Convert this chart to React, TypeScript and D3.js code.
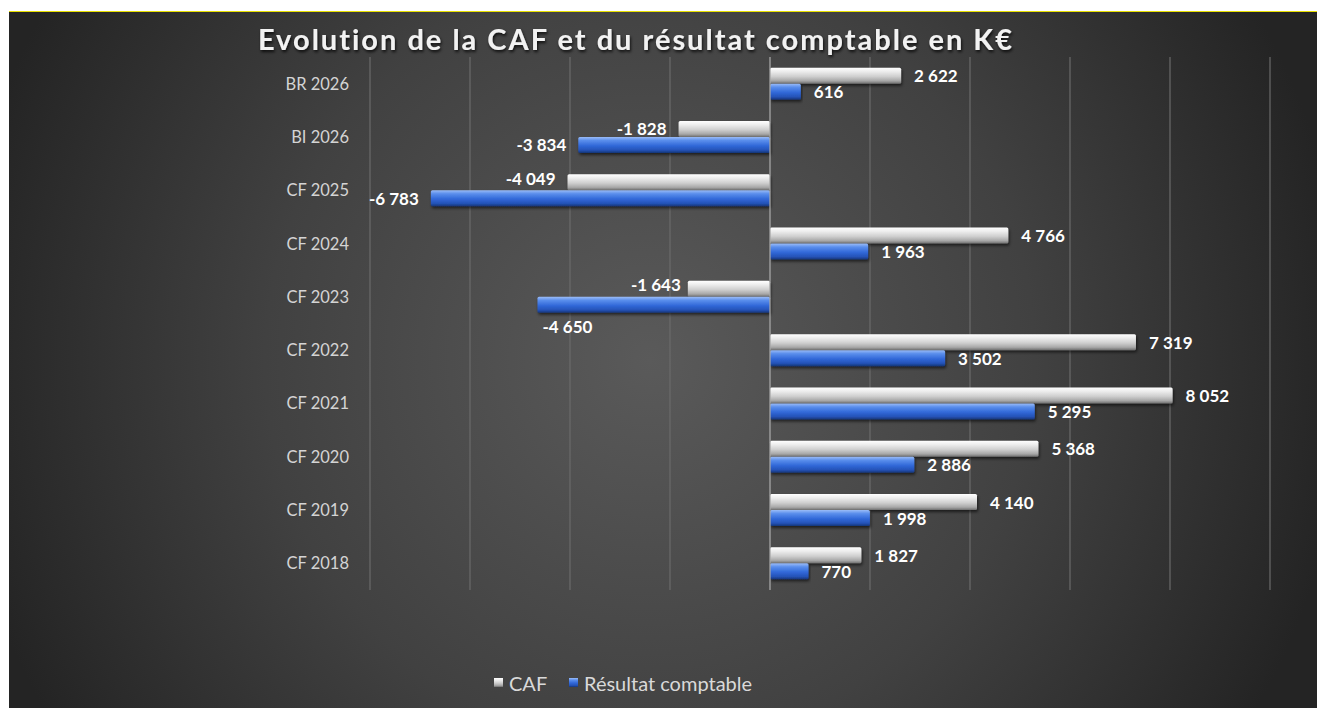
import React, { useEffect, useRef } from 'react';
import * as d3 from 'd3';

const categories = ['BR 2026', 'BI 2026', 'CF 2025', 'CF 2024', 'CF 2023', 'CF 2022', 'CF 2021', 'CF 2020', 'CF 2019', 'CF 2018'];
const cafValues = [2622, -1828, -4049, 4766, -1643, 7319, 8052, 5368, 4140, 1827];
const resultatValues = [616, -3834, -6783, 1963, -4650, 3502, 5295, 2886, 1998, 770];
const seriesNames = ['CAF', 'Résultat comptable'];
const xTicks = [-8000, -6000, -4000, -2000, 0, 2000, 4000, 6000, 8000, 10000];

const W = 1317;
const H = 708;
const FONT = 'Lato, "Open Sans", sans-serif';

const App = () => {
  const ref = useRef<SVGSVGElement | null>(null);

  useEffect(() => {
    const svg = d3.select(ref.current);
    svg.selectAll('*').remove();

    const defs = svg.append('defs');

    const bg = defs.append('radialGradient').attr('id', 'bg')
      .attr('gradientUnits', 'userSpaceOnUse')
      .attr('cx', 650).attr('cy', 360).attr('r', 700);
    bg.append('stop').attr('offset', '0%').attr('stop-color', '#5a5a5a');
    bg.append('stop').attr('offset', '55%').attr('stop-color', '#414141');
    bg.append('stop').attr('offset', '100%').attr('stop-color', '#242424');

    const grayGrad = defs.append('linearGradient').attr('id', 'gray').attr('x1', 0).attr('y1', 0).attr('x2', 0).attr('y2', 1);
    [['0%', '#ffffff'], ['25%', '#ececec'], ['55%', '#cfcfcf'], ['82%', '#a8a8a8'], ['100%', '#6e6e6e']]
      .forEach(([o, c]) => grayGrad.append('stop').attr('offset', o).attr('stop-color', c));

    const blueGrad = defs.append('linearGradient').attr('id', 'blue').attr('x1', 0).attr('y1', 0).attr('x2', 0).attr('y2', 1);
    [['0%', '#9bbcf7'], ['22%', '#5a8eec'], ['55%', '#3168d8'], ['82%', '#2553b8'], ['100%', '#163577']]
      .forEach(([o, c]) => blueGrad.append('stop').attr('offset', o).attr('stop-color', c));

    const shadow = defs.append('filter').attr('id', 'shadow').attr('x', '-5%').attr('y', '-30%').attr('width', '110%').attr('height', '180%');
    shadow.append('feDropShadow').attr('dx', 1).attr('dy', 2).attr('stdDeviation', 1.5)
      .attr('flood-color', '#000').attr('flood-opacity', 0.6);

    const tshadow = defs.append('filter').attr('id', 'tshadow');
    tshadow.append('feDropShadow').attr('dx', 1).attr('dy', 2).attr('stdDeviation', 1.5)
      .attr('flood-color', '#000').attr('flood-opacity', 0.8);

    // page + chart area
    svg.append('rect').attr('width', W).attr('height', H).attr('fill', '#fff');
    svg.append('rect').attr('x', 9).attr('y', 11).attr('width', W - 9).attr('height', 1.5).attr('fill', '#e8e000');
    svg.append('rect').attr('x', 9).attr('y', 12).attr('width', W - 9).attr('height', H - 12).attr('fill', 'url(#bg)');

    const top = 57;
    const bottom = 590;

    const x = d3.scaleLinear().domain([-8000, 10000]).range([370, 1270]);
    const y = d3.scaleBand().domain(categories).range([top, bottom]).paddingInner(0.4).paddingOuter(0.2);
    const y1 = d3.scaleBand().domain(seriesNames).range([0, y.bandwidth()]);

    const locale = d3.formatLocale({ decimal: ',', thousands: ' ', grouping: [3], currency: ['', ' €'], minus: '-' });
    const fmt = locale.format(',d');

    // gridlines
    svg.append('g').selectAll('line').data(xTicks.filter(t => t !== 0)).join('line')
      .attr('x1', d => x(d)).attr('x2', d => x(d))
      .attr('y1', top).attr('y2', bottom)
      .attr('stroke', '#6b6b6b').attr('stroke-width', 1.2);

    // category labels
    svg.append('g').selectAll('text').data(categories).join('text')
      .attr('x', 349).attr('y', d => (y(d) as number) + y.bandwidth() / 2)
      .attr('text-anchor', 'end').attr('dominant-baseline', 'central')
      .attr('font-family', FONT).attr('font-size', 16.5).attr('fill', '#d4d4d4')
      .text(d => d);

    const series = [
      { name: seriesNames[0], values: cafValues, fill: 'url(#gray)' },
      { name: seriesNames[1], values: resultatValues, fill: 'url(#blue)' },
    ];

    // label nudges to mimic the reference placement (category|series) -> [dx, dy]
    const nudge: Record<string, [number, number]> = {
      'CF 2025|CAF': [0, -4],
      'CF 2023|CAF': [5, -4],
    };

    series.forEach(s => {
      svg.append('g').selectAll('rect').data(s.values).join('rect')
        .attr('x', d => x(Math.min(0, d)))
        .attr('width', d => Math.abs(x(d) - x(0)))
        .attr('y', (d, i) => (y(categories[i]) as number) + (y1(s.name) as number))
        .attr('height', y1.bandwidth())
        .attr('rx', 1.5)
        .attr('fill', s.fill)
        .attr('filter', 'url(#shadow)');
    });

    // zero axis
    svg.append('line').attr('x1', x(0)).attr('x2', x(0)).attr('y1', top).attr('y2', bottom)
      .attr('stroke', '#a6a6a6').attr('stroke-width', 1.3);

    series.forEach(s => {
      svg.append('g').selectAll('text').data(s.values).join('text')
        .each(function (d, i) {
          const cat = categories[i];
          const cy = (y(cat) as number) + (y1(s.name) as number) + y1.bandwidth() / 2;
          const [dx, dy] = nudge[`${cat}|${s.name}`] || [0, 0];
          const t = d3.select(this);
          if (cat === 'CF 2023' && s.name === seriesNames[1]) {
            // label placed under the bar
            t.attr('x', x(d) + 5).attr('y', cy + 22).attr('text-anchor', 'start');
          } else if (d >= 0) {
            t.attr('x', x(d) + 13 + dx).attr('y', cy + dy).attr('text-anchor', 'start');
          } else {
            t.attr('x', x(d) - 12 + dx).attr('y', cy + dy).attr('text-anchor', 'end');
          }
        })
        .attr('dominant-baseline', 'central')
        .attr('font-family', FONT).attr('font-weight', 700).attr('font-size', 17).attr('fill', '#ffffff')
        .text(d => fmt(d));
    });

    // title
    svg.append('text')
      .attr('x', 636).attr('y', 38)
      .attr('text-anchor', 'middle').attr('dominant-baseline', 'central')
      .attr('font-family', FONT).attr('font-weight', 700).attr('font-size', 29)
      .attr('letter-spacing', 2).attr('fill', '#f2f2f2').attr('filter', 'url(#tshadow)')
      .text('Evolution de la CAF et du résultat comptable en K€');

    // legend
    const legend = svg.append('g').attr('transform', 'translate(494,683)');
    const items = [
      { name: seriesNames[0], fill: 'url(#gray)', x: 0 },
      { name: seriesNames[1], fill: 'url(#blue)', x: 75 },
    ];
    items.forEach(it => {
      legend.append('rect').attr('x', it.x).attr('y', -5).attr('width', 9).attr('height', 9).attr('fill', it.fill);
      legend.append('text').attr('x', it.x + 15).attr('y', 0).attr('dominant-baseline', 'central')
        .attr('font-family', FONT).attr('font-size', 20).attr('fill', '#d9d9d9')
        .text(it.name);
    });
  }, []);

  return (
    <svg ref={ref} width={W} height={H} style={{ position: 'absolute', left: 0, top: 0 }}></svg>
  );
};

export default App;
